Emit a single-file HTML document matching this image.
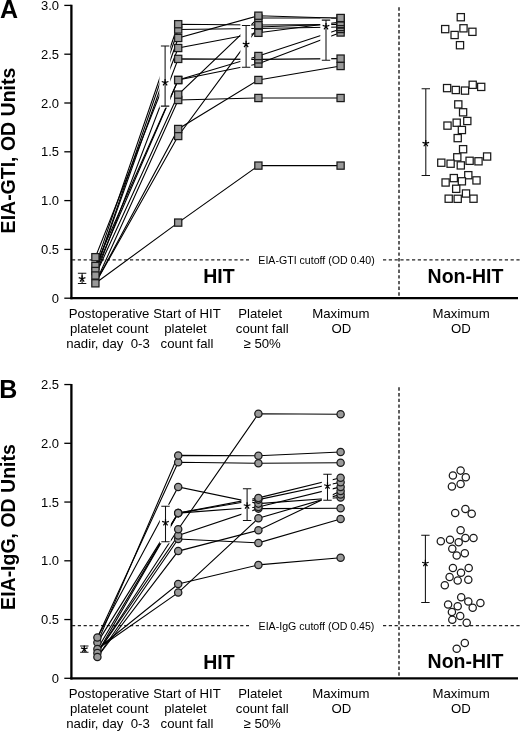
<!DOCTYPE html><html><head><meta charset="utf-8"><style>html,body{margin:0;padding:0;background:#fff;width:520px;height:732px;overflow:hidden}svg{display:block;will-change:transform}text{font-family:"Liberation Sans", sans-serif;fill:#000}</style></head><body><svg width="520" height="732" viewBox="0 0 520 732"><rect width="520" height="732" fill="#fff"/><path d="M399 7.3V296.5M399 387.3V677" stroke="#000" stroke-width="1.25" stroke-dasharray="3.4 2.3" fill="none"/><path d="M71.4 4.8V299.3" stroke="#000" stroke-width="2.3" fill="none"/><path d="M70.3 298.2H518" stroke="#000" stroke-width="2.3" fill="none"/><path d="M64.3 298.2H71.4" stroke="#000" stroke-width="1.3" fill="none"/><text x="59.1" y="302.7" font-size="13" text-anchor="end" font-weight="normal">0</text><path d="M64.3 249.4H71.4" stroke="#000" stroke-width="1.3" fill="none"/><text x="59.1" y="253.9" font-size="13" text-anchor="end" font-weight="normal">0.5</text><path d="M64.3 200.6H71.4" stroke="#000" stroke-width="1.3" fill="none"/><text x="59.1" y="205.1" font-size="13" text-anchor="end" font-weight="normal">1.0</text><path d="M64.3 151.8H71.4" stroke="#000" stroke-width="1.3" fill="none"/><text x="59.1" y="156.3" font-size="13" text-anchor="end" font-weight="normal">1.5</text><path d="M64.3 103H71.4" stroke="#000" stroke-width="1.3" fill="none"/><text x="59.1" y="107.5" font-size="13" text-anchor="end" font-weight="normal">2.0</text><path d="M64.3 54.2H71.4" stroke="#000" stroke-width="1.3" fill="none"/><text x="59.1" y="58.7" font-size="13" text-anchor="end" font-weight="normal">2.5</text><path d="M64.3 5.4H71.4" stroke="#000" stroke-width="1.3" fill="none"/><text x="59.1" y="9.9" font-size="13" text-anchor="end" font-weight="normal">3.0</text><text x="0.1" y="17.6" font-size="25" text-anchor="start" font-weight="bold">A</text><text x="0" y="0" font-size="19.5" font-weight="bold" text-anchor="middle" transform="translate(14.8 150.5) rotate(-90)">EIA-GTI, OD Units</text><path d="M72 259.8H249M383 259.8H520" stroke="#222" stroke-width="1.2" stroke-dasharray="3.2 2.6" fill="none"/><text x="316.5" y="263.9" font-size="10.6" text-anchor="middle" font-weight="normal">EIA-GTI cutoff (OD 0.40)</text><path d="M95.4 266L178.2 24.2L258.4 25L340.6 24.5" stroke="#000" stroke-width="1.1" fill="none"/><path d="M95.4 271L178.2 29.5L258.4 28.5L340.6 27" stroke="#000" stroke-width="1.1" fill="none"/><path d="M95.4 271L178.2 38L258.4 15.7L340.6 18.3" stroke="#000" stroke-width="1.1" fill="none"/><path d="M95.4 257.2L178.2 48L258.4 32.8L340.6 22" stroke="#000" stroke-width="1.1" fill="none"/><path d="M95.4 275.5L178.2 58.9L258.4 59.4L340.6 58.6" stroke="#000" stroke-width="1.1" fill="none"/><path d="M95.4 266L178.2 80L258.4 56L340.6 29" stroke="#000" stroke-width="1.1" fill="none"/><path d="M95.4 271L178.2 80L258.4 63.7L340.6 32.5" stroke="#000" stroke-width="1.1" fill="none"/><path d="M95.4 275.5L178.2 94.6L258.4 18L340.6 18" stroke="#000" stroke-width="1.1" fill="none"/><path d="M95.4 283.3L178.2 100L258.4 98L340.6 98" stroke="#000" stroke-width="1.1" fill="none"/><path d="M95.4 283.3L178.2 129L258.4 80L340.6 66" stroke="#000" stroke-width="1.1" fill="none"/><path d="M95.4 283.3L178.2 136L258.4 27L340.6 24" stroke="#000" stroke-width="1.1" fill="none"/><path d="M95.4 283.3L178.2 222.6L258.4 165.6L340.6 165.6" stroke="#000" stroke-width="1.1" fill="none"/><rect x="159.4" y="44.5" width="10.9" height="63.1" fill="#fff"/><rect x="240.4" y="23.9" width="10.9" height="44.9" fill="#fff"/><rect x="320.3" y="18.6" width="10.9" height="43.2" fill="#fff"/><rect x="91.8" y="262.4" width="7.2" height="7.2" fill="#999999" stroke="#1a1a1a" stroke-width="1.25"/><rect x="91.8" y="267.4" width="7.2" height="7.2" fill="#999999" stroke="#1a1a1a" stroke-width="1.25"/><rect x="91.8" y="271.9" width="7.2" height="7.2" fill="#999999" stroke="#1a1a1a" stroke-width="1.25"/><rect x="91.8" y="279.7" width="7.2" height="7.2" fill="#999999" stroke="#1a1a1a" stroke-width="1.25"/><rect x="91.8" y="253.6" width="7.2" height="7.2" fill="#999999" stroke="#1a1a1a" stroke-width="1.25"/><rect x="174.6" y="219" width="7.2" height="7.2" fill="#999999" stroke="#1a1a1a" stroke-width="1.25"/><rect x="174.6" y="132.4" width="7.2" height="7.2" fill="#999999" stroke="#1a1a1a" stroke-width="1.25"/><rect x="174.6" y="125.4" width="7.2" height="7.2" fill="#999999" stroke="#1a1a1a" stroke-width="1.25"/><rect x="174.6" y="96.4" width="7.2" height="7.2" fill="#999999" stroke="#1a1a1a" stroke-width="1.25"/><rect x="174.6" y="91" width="7.2" height="7.2" fill="#999999" stroke="#1a1a1a" stroke-width="1.25"/><rect x="174.6" y="76.4" width="7.2" height="7.2" fill="#999999" stroke="#1a1a1a" stroke-width="1.25"/><rect x="174.6" y="76.4" width="7.2" height="7.2" fill="#999999" stroke="#1a1a1a" stroke-width="1.25"/><rect x="174.6" y="55.3" width="7.2" height="7.2" fill="#999999" stroke="#1a1a1a" stroke-width="1.25"/><rect x="174.6" y="44.4" width="7.2" height="7.2" fill="#999999" stroke="#1a1a1a" stroke-width="1.25"/><rect x="174.6" y="34.4" width="7.2" height="7.2" fill="#999999" stroke="#1a1a1a" stroke-width="1.25"/><rect x="174.6" y="25.9" width="7.2" height="7.2" fill="#999999" stroke="#1a1a1a" stroke-width="1.25"/><rect x="174.6" y="20.6" width="7.2" height="7.2" fill="#999999" stroke="#1a1a1a" stroke-width="1.25"/><rect x="254.8" y="24.9" width="7.2" height="7.2" fill="#999999" stroke="#1a1a1a" stroke-width="1.25"/><rect x="254.8" y="23.4" width="7.2" height="7.2" fill="#999999" stroke="#1a1a1a" stroke-width="1.25"/><rect x="254.8" y="162" width="7.2" height="7.2" fill="#999999" stroke="#1a1a1a" stroke-width="1.25"/><rect x="254.8" y="94.4" width="7.2" height="7.2" fill="#999999" stroke="#1a1a1a" stroke-width="1.25"/><rect x="254.8" y="76.4" width="7.2" height="7.2" fill="#999999" stroke="#1a1a1a" stroke-width="1.25"/><rect x="254.8" y="60.1" width="7.2" height="7.2" fill="#999999" stroke="#1a1a1a" stroke-width="1.25"/><rect x="254.8" y="55.8" width="7.2" height="7.2" fill="#999999" stroke="#1a1a1a" stroke-width="1.25"/><rect x="254.8" y="52.4" width="7.2" height="7.2" fill="#999999" stroke="#1a1a1a" stroke-width="1.25"/><rect x="254.8" y="29.2" width="7.2" height="7.2" fill="#999999" stroke="#1a1a1a" stroke-width="1.25"/><rect x="254.8" y="21.4" width="7.2" height="7.2" fill="#999999" stroke="#1a1a1a" stroke-width="1.25"/><rect x="254.8" y="14.4" width="7.2" height="7.2" fill="#999999" stroke="#1a1a1a" stroke-width="1.25"/><rect x="254.8" y="12.1" width="7.2" height="7.2" fill="#999999" stroke="#1a1a1a" stroke-width="1.25"/><rect x="337" y="162" width="7.2" height="7.2" fill="#999999" stroke="#1a1a1a" stroke-width="1.25"/><rect x="337" y="94.4" width="7.2" height="7.2" fill="#999999" stroke="#1a1a1a" stroke-width="1.25"/><rect x="337" y="62.4" width="7.2" height="7.2" fill="#999999" stroke="#1a1a1a" stroke-width="1.25"/><rect x="337" y="55" width="7.2" height="7.2" fill="#999999" stroke="#1a1a1a" stroke-width="1.25"/><rect x="337" y="28.9" width="7.2" height="7.2" fill="#999999" stroke="#1a1a1a" stroke-width="1.25"/><rect x="337" y="25.4" width="7.2" height="7.2" fill="#999999" stroke="#1a1a1a" stroke-width="1.25"/><rect x="337" y="23.4" width="7.2" height="7.2" fill="#999999" stroke="#1a1a1a" stroke-width="1.25"/><rect x="337" y="20.9" width="7.2" height="7.2" fill="#999999" stroke="#1a1a1a" stroke-width="1.25"/><rect x="337" y="20.4" width="7.2" height="7.2" fill="#999999" stroke="#1a1a1a" stroke-width="1.25"/><rect x="337" y="18.4" width="7.2" height="7.2" fill="#999999" stroke="#1a1a1a" stroke-width="1.25"/><rect x="337" y="14.7" width="7.2" height="7.2" fill="#999999" stroke="#1a1a1a" stroke-width="1.25"/><rect x="337" y="14.4" width="7.2" height="7.2" fill="#999999" stroke="#1a1a1a" stroke-width="1.25"/><rect x="457.2" y="13.6" width="7.2" height="7.2" fill="#fff" stroke="#1a1a1a" stroke-width="1.25"/><rect x="441.6" y="25.5" width="7.2" height="7.2" fill="#fff" stroke="#1a1a1a" stroke-width="1.25"/><rect x="451" y="31.4" width="7.2" height="7.2" fill="#fff" stroke="#1a1a1a" stroke-width="1.25"/><rect x="459.9" y="24.7" width="7.2" height="7.2" fill="#fff" stroke="#1a1a1a" stroke-width="1.25"/><rect x="468.8" y="28.2" width="7.2" height="7.2" fill="#fff" stroke="#1a1a1a" stroke-width="1.25"/><rect x="456.4" y="41.6" width="7.2" height="7.2" fill="#fff" stroke="#1a1a1a" stroke-width="1.25"/><rect x="443.5" y="84.5" width="7.2" height="7.2" fill="#fff" stroke="#1a1a1a" stroke-width="1.25"/><rect x="452.2" y="86.4" width="7.2" height="7.2" fill="#fff" stroke="#1a1a1a" stroke-width="1.25"/><rect x="461.4" y="87" width="7.2" height="7.2" fill="#fff" stroke="#1a1a1a" stroke-width="1.25"/><rect x="469.1" y="81.2" width="7.2" height="7.2" fill="#fff" stroke="#1a1a1a" stroke-width="1.25"/><rect x="477.6" y="83.3" width="7.2" height="7.2" fill="#fff" stroke="#1a1a1a" stroke-width="1.25"/><rect x="454.7" y="100.8" width="7.2" height="7.2" fill="#fff" stroke="#1a1a1a" stroke-width="1.25"/><rect x="459.5" y="108.7" width="7.2" height="7.2" fill="#fff" stroke="#1a1a1a" stroke-width="1.25"/><rect x="463.7" y="117.4" width="7.2" height="7.2" fill="#fff" stroke="#1a1a1a" stroke-width="1.25"/><rect x="453.1" y="119.1" width="7.2" height="7.2" fill="#fff" stroke="#1a1a1a" stroke-width="1.25"/><rect x="443.9" y="122" width="7.2" height="7.2" fill="#fff" stroke="#1a1a1a" stroke-width="1.25"/><rect x="458.3" y="126.4" width="7.2" height="7.2" fill="#fff" stroke="#1a1a1a" stroke-width="1.25"/><rect x="454.1" y="134.5" width="7.2" height="7.2" fill="#fff" stroke="#1a1a1a" stroke-width="1.25"/><rect x="459.5" y="145.6" width="7.2" height="7.2" fill="#fff" stroke="#1a1a1a" stroke-width="1.25"/><rect x="453.7" y="153.7" width="7.2" height="7.2" fill="#fff" stroke="#1a1a1a" stroke-width="1.25"/><rect x="483.5" y="152.9" width="7.2" height="7.2" fill="#fff" stroke="#1a1a1a" stroke-width="1.25"/><rect x="437.7" y="159.1" width="7.2" height="7.2" fill="#fff" stroke="#1a1a1a" stroke-width="1.25"/><rect x="447" y="160.1" width="7.2" height="7.2" fill="#fff" stroke="#1a1a1a" stroke-width="1.25"/><rect x="457.2" y="161.8" width="7.2" height="7.2" fill="#fff" stroke="#1a1a1a" stroke-width="1.25"/><rect x="466" y="157.2" width="7.2" height="7.2" fill="#fff" stroke="#1a1a1a" stroke-width="1.25"/><rect x="474.9" y="157.7" width="7.2" height="7.2" fill="#fff" stroke="#1a1a1a" stroke-width="1.25"/><rect x="464.7" y="171.6" width="7.2" height="7.2" fill="#fff" stroke="#1a1a1a" stroke-width="1.25"/><rect x="450.2" y="174.5" width="7.2" height="7.2" fill="#fff" stroke="#1a1a1a" stroke-width="1.25"/><rect x="442" y="178.9" width="7.2" height="7.2" fill="#fff" stroke="#1a1a1a" stroke-width="1.25"/><rect x="458.3" y="177.7" width="7.2" height="7.2" fill="#fff" stroke="#1a1a1a" stroke-width="1.25"/><rect x="472.9" y="176.8" width="7.2" height="7.2" fill="#fff" stroke="#1a1a1a" stroke-width="1.25"/><rect x="452.6" y="185.2" width="7.2" height="7.2" fill="#fff" stroke="#1a1a1a" stroke-width="1.25"/><rect x="462.4" y="189.9" width="7.2" height="7.2" fill="#fff" stroke="#1a1a1a" stroke-width="1.25"/><rect x="445.1" y="195.1" width="7.2" height="7.2" fill="#fff" stroke="#1a1a1a" stroke-width="1.25"/><rect x="454.1" y="195.2" width="7.2" height="7.2" fill="#fff" stroke="#1a1a1a" stroke-width="1.25"/><rect x="469.9" y="195.1" width="7.2" height="7.2" fill="#fff" stroke="#1a1a1a" stroke-width="1.25"/><path d="M77.9 273.2H86.3M82.1 273.2V283.4M77.9 283.4H86.3" stroke="#111" stroke-width="1.05" fill="none"/><path d="M82.1 278.7L82.1 275.2M82.1 278.7L85.43 277.62M82.1 278.7L84.16 281.53M82.1 278.7L80.04 281.53M82.1 278.7L78.77 277.62" stroke="#000" stroke-width="1.2" fill="none" stroke-linecap="butt"/><path d="M160.9 46H169.3M165.1 46V106.1M160.9 106.1H169.3" stroke="#111" stroke-width="1.05" fill="none"/><path d="M165.1 82.6L165.1 79.1M165.1 82.6L168.43 81.52M165.1 82.6L167.16 85.43M165.1 82.6L163.04 85.43M165.1 82.6L161.77 81.52" stroke="#000" stroke-width="1.2" fill="none" stroke-linecap="butt"/><path d="M241.9 25.4H250.3M246.1 25.4V67.3M241.9 67.3H250.3" stroke="#111" stroke-width="1.05" fill="none"/><path d="M246.1 44.2L246.1 40.7M246.1 44.2L249.43 43.12M246.1 44.2L248.16 47.03M246.1 44.2L244.04 47.03M246.1 44.2L242.77 43.12" stroke="#000" stroke-width="1.2" fill="none" stroke-linecap="butt"/><path d="M321.8 20.1H330.2M326 20.1V60.3M321.8 60.3H330.2" stroke="#111" stroke-width="1.05" fill="none"/><path d="M326 26.5L326 23M326 26.5L329.33 25.42M326 26.5L328.06 29.33M326 26.5L323.94 29.33M326 26.5L322.67 25.42" stroke="#000" stroke-width="1.2" fill="none" stroke-linecap="butt"/><path d="M421.6 88.7H430M425.8 88.7V175.4M421.6 175.4H430" stroke="#111" stroke-width="1.05" fill="none"/><path d="M425.8 143.4L425.8 139.9M425.8 143.4L429.13 142.32M425.8 143.4L427.86 146.23M425.8 143.4L423.74 146.23M425.8 143.4L422.47 142.32" stroke="#000" stroke-width="1.2" fill="none" stroke-linecap="butt"/><path d="M71.4 383.9V679.4" stroke="#000" stroke-width="2.3" fill="none"/><path d="M70.3 678.3H518" stroke="#000" stroke-width="2.3" fill="none"/><path d="M64.3 678.3H71.4" stroke="#000" stroke-width="1.3" fill="none"/><text x="59.1" y="682.8" font-size="13" text-anchor="end" font-weight="normal">0</text><path d="M64.3 619.55H71.4" stroke="#000" stroke-width="1.3" fill="none"/><text x="59.1" y="624.05" font-size="13" text-anchor="end" font-weight="normal">0.5</text><path d="M64.3 560.8H71.4" stroke="#000" stroke-width="1.3" fill="none"/><text x="59.1" y="565.3" font-size="13" text-anchor="end" font-weight="normal">1.0</text><path d="M64.3 502.05H71.4" stroke="#000" stroke-width="1.3" fill="none"/><text x="59.1" y="506.55" font-size="13" text-anchor="end" font-weight="normal">1.5</text><path d="M64.3 443.3H71.4" stroke="#000" stroke-width="1.3" fill="none"/><text x="59.1" y="447.8" font-size="13" text-anchor="end" font-weight="normal">2.0</text><path d="M64.3 384.55H71.4" stroke="#000" stroke-width="1.3" fill="none"/><text x="59.1" y="389.05" font-size="13" text-anchor="end" font-weight="normal">2.5</text><text x="-0.8" y="397.7" font-size="25" text-anchor="start" font-weight="bold">B</text><text x="0" y="0" font-size="19.5" font-weight="bold" text-anchor="middle" transform="translate(14.8 527) rotate(-90)">EIA-IgG, OD Units</text><path d="M72 625.7H249M383 625.7H520" stroke="#222" stroke-width="1.2" stroke-dasharray="3.2 2.6" fill="none"/><text x="316.5" y="629.8" font-size="10.6" text-anchor="middle" font-weight="normal">EIA-IgG cutoff (OD 0.45)</text><path d="M97.4 637.5L178.2 462.3L258.4 463.3L340.6 462.7" stroke="#000" stroke-width="1.1" fill="none"/><path d="M97.4 642.6L178.2 455.4L258.4 455.8L340.6 452" stroke="#000" stroke-width="1.1" fill="none"/><path d="M97.4 637.5L178.2 486.9L258.4 503.6L340.6 497.5" stroke="#000" stroke-width="1.1" fill="none"/><path d="M97.4 642.6L178.2 513.1L258.4 497.9L340.6 477.7" stroke="#000" stroke-width="1.1" fill="none"/><path d="M97.4 649L178.2 584L258.4 564.9L340.6 557.7" stroke="#000" stroke-width="1.1" fill="none"/><path d="M97.4 649L178.2 513.1L258.4 499.6L340.6 482.3" stroke="#000" stroke-width="1.1" fill="none"/><path d="M97.4 649L178.2 592.6L258.4 518.2L340.6 494.4" stroke="#000" stroke-width="1.1" fill="none"/><path d="M97.4 653L178.2 513.1L258.4 507L340.6 486.9" stroke="#000" stroke-width="1.1" fill="none"/><path d="M97.4 653L178.2 529.2L258.4 413.8L340.6 414.2" stroke="#000" stroke-width="1.1" fill="none"/><path d="M97.4 653L178.2 535.5L258.4 508.6L340.6 508.3" stroke="#000" stroke-width="1.1" fill="none"/><path d="M97.4 657L178.2 539L258.4 542.9L340.6 519" stroke="#000" stroke-width="1.1" fill="none"/><path d="M97.4 657L178.2 551.1L258.4 530.3L340.6 491" stroke="#000" stroke-width="1.1" fill="none"/><rect x="159.8" y="504.7" width="10.9" height="38.6" fill="#fff"/><rect x="241.4" y="487.3" width="10.9" height="34.6" fill="#fff"/><rect x="321.8" y="472.7" width="10.9" height="29" fill="#fff"/><circle cx="97.4" cy="642.6" r="3.65" fill="#999999" stroke="#1a1a1a" stroke-width="1.25"/><circle cx="97.4" cy="649" r="3.65" fill="#999999" stroke="#1a1a1a" stroke-width="1.25"/><circle cx="97.4" cy="653" r="3.65" fill="#999999" stroke="#1a1a1a" stroke-width="1.25"/><circle cx="97.4" cy="657" r="3.65" fill="#999999" stroke="#1a1a1a" stroke-width="1.25"/><circle cx="97.4" cy="637.5" r="3.65" fill="#999999" stroke="#1a1a1a" stroke-width="1.25"/><circle cx="178.2" cy="592.6" r="3.65" fill="#999999" stroke="#1a1a1a" stroke-width="1.25"/><circle cx="178.2" cy="584" r="3.65" fill="#999999" stroke="#1a1a1a" stroke-width="1.25"/><circle cx="178.2" cy="551.1" r="3.65" fill="#999999" stroke="#1a1a1a" stroke-width="1.25"/><circle cx="178.2" cy="539" r="3.65" fill="#999999" stroke="#1a1a1a" stroke-width="1.25"/><circle cx="178.2" cy="535.5" r="3.65" fill="#999999" stroke="#1a1a1a" stroke-width="1.25"/><circle cx="178.2" cy="529.2" r="3.65" fill="#999999" stroke="#1a1a1a" stroke-width="1.25"/><circle cx="178.2" cy="513.1" r="3.65" fill="#999999" stroke="#1a1a1a" stroke-width="1.25"/><circle cx="178.2" cy="513.1" r="3.65" fill="#999999" stroke="#1a1a1a" stroke-width="1.25"/><circle cx="178.2" cy="513.1" r="3.65" fill="#999999" stroke="#1a1a1a" stroke-width="1.25"/><circle cx="178.2" cy="486.9" r="3.65" fill="#999999" stroke="#1a1a1a" stroke-width="1.25"/><circle cx="178.2" cy="462.3" r="3.65" fill="#999999" stroke="#1a1a1a" stroke-width="1.25"/><circle cx="178.2" cy="455.4" r="3.65" fill="#999999" stroke="#1a1a1a" stroke-width="1.25"/><circle cx="258.4" cy="564.9" r="3.65" fill="#999999" stroke="#1a1a1a" stroke-width="1.25"/><circle cx="258.4" cy="542.9" r="3.65" fill="#999999" stroke="#1a1a1a" stroke-width="1.25"/><circle cx="258.4" cy="530.3" r="3.65" fill="#999999" stroke="#1a1a1a" stroke-width="1.25"/><circle cx="258.4" cy="518.2" r="3.65" fill="#999999" stroke="#1a1a1a" stroke-width="1.25"/><circle cx="258.4" cy="508.6" r="3.65" fill="#999999" stroke="#1a1a1a" stroke-width="1.25"/><circle cx="258.4" cy="507" r="3.65" fill="#999999" stroke="#1a1a1a" stroke-width="1.25"/><circle cx="258.4" cy="503.6" r="3.65" fill="#999999" stroke="#1a1a1a" stroke-width="1.25"/><circle cx="258.4" cy="499.6" r="3.65" fill="#999999" stroke="#1a1a1a" stroke-width="1.25"/><circle cx="258.4" cy="497.9" r="3.65" fill="#999999" stroke="#1a1a1a" stroke-width="1.25"/><circle cx="258.4" cy="463.3" r="3.65" fill="#999999" stroke="#1a1a1a" stroke-width="1.25"/><circle cx="258.4" cy="455.8" r="3.65" fill="#999999" stroke="#1a1a1a" stroke-width="1.25"/><circle cx="258.4" cy="413.8" r="3.65" fill="#999999" stroke="#1a1a1a" stroke-width="1.25"/><circle cx="340.6" cy="557.7" r="3.65" fill="#999999" stroke="#1a1a1a" stroke-width="1.25"/><circle cx="340.6" cy="519" r="3.65" fill="#999999" stroke="#1a1a1a" stroke-width="1.25"/><circle cx="340.6" cy="508.3" r="3.65" fill="#999999" stroke="#1a1a1a" stroke-width="1.25"/><circle cx="340.6" cy="497.5" r="3.65" fill="#999999" stroke="#1a1a1a" stroke-width="1.25"/><circle cx="340.6" cy="494.4" r="3.65" fill="#999999" stroke="#1a1a1a" stroke-width="1.25"/><circle cx="340.6" cy="491" r="3.65" fill="#999999" stroke="#1a1a1a" stroke-width="1.25"/><circle cx="340.6" cy="486.9" r="3.65" fill="#999999" stroke="#1a1a1a" stroke-width="1.25"/><circle cx="340.6" cy="482.3" r="3.65" fill="#999999" stroke="#1a1a1a" stroke-width="1.25"/><circle cx="340.6" cy="477.7" r="3.65" fill="#999999" stroke="#1a1a1a" stroke-width="1.25"/><circle cx="340.6" cy="462.7" r="3.65" fill="#999999" stroke="#1a1a1a" stroke-width="1.25"/><circle cx="340.6" cy="452" r="3.65" fill="#999999" stroke="#1a1a1a" stroke-width="1.25"/><circle cx="340.6" cy="414.2" r="3.65" fill="#999999" stroke="#1a1a1a" stroke-width="1.25"/><circle cx="460.6" cy="470.6" r="3.65" fill="#fff" stroke="#1a1a1a" stroke-width="1.25"/><circle cx="452.9" cy="475.4" r="3.65" fill="#fff" stroke="#1a1a1a" stroke-width="1.25"/><circle cx="465.8" cy="477.3" r="3.65" fill="#fff" stroke="#1a1a1a" stroke-width="1.25"/><circle cx="460.6" cy="484" r="3.65" fill="#fff" stroke="#1a1a1a" stroke-width="1.25"/><circle cx="451.9" cy="486.5" r="3.65" fill="#fff" stroke="#1a1a1a" stroke-width="1.25"/><circle cx="465.4" cy="509" r="3.65" fill="#fff" stroke="#1a1a1a" stroke-width="1.25"/><circle cx="455.2" cy="512.9" r="3.65" fill="#fff" stroke="#1a1a1a" stroke-width="1.25"/><circle cx="471.7" cy="513.8" r="3.65" fill="#fff" stroke="#1a1a1a" stroke-width="1.25"/><circle cx="460.6" cy="530.2" r="3.65" fill="#fff" stroke="#1a1a1a" stroke-width="1.25"/><circle cx="440.8" cy="541.3" r="3.65" fill="#fff" stroke="#1a1a1a" stroke-width="1.25"/><circle cx="450" cy="539.8" r="3.65" fill="#fff" stroke="#1a1a1a" stroke-width="1.25"/><circle cx="458.7" cy="542.3" r="3.65" fill="#fff" stroke="#1a1a1a" stroke-width="1.25"/><circle cx="465.4" cy="537.9" r="3.65" fill="#fff" stroke="#1a1a1a" stroke-width="1.25"/><circle cx="473.5" cy="537.9" r="3.65" fill="#fff" stroke="#1a1a1a" stroke-width="1.25"/><circle cx="452.3" cy="548.8" r="3.65" fill="#fff" stroke="#1a1a1a" stroke-width="1.25"/><circle cx="464.8" cy="553.3" r="3.65" fill="#fff" stroke="#1a1a1a" stroke-width="1.25"/><circle cx="456.7" cy="555.6" r="3.65" fill="#fff" stroke="#1a1a1a" stroke-width="1.25"/><circle cx="452.9" cy="567.9" r="3.65" fill="#fff" stroke="#1a1a1a" stroke-width="1.25"/><circle cx="468.7" cy="567.9" r="3.65" fill="#fff" stroke="#1a1a1a" stroke-width="1.25"/><circle cx="461" cy="572.7" r="3.65" fill="#fff" stroke="#1a1a1a" stroke-width="1.25"/><circle cx="449.6" cy="576.9" r="3.65" fill="#fff" stroke="#1a1a1a" stroke-width="1.25"/><circle cx="457.7" cy="580.4" r="3.65" fill="#fff" stroke="#1a1a1a" stroke-width="1.25"/><circle cx="468.3" cy="579.8" r="3.65" fill="#fff" stroke="#1a1a1a" stroke-width="1.25"/><circle cx="444.8" cy="585.2" r="3.65" fill="#fff" stroke="#1a1a1a" stroke-width="1.25"/><circle cx="461.2" cy="597.3" r="3.65" fill="#fff" stroke="#1a1a1a" stroke-width="1.25"/><circle cx="468.3" cy="601.5" r="3.65" fill="#fff" stroke="#1a1a1a" stroke-width="1.25"/><circle cx="480.4" cy="603.1" r="3.65" fill="#fff" stroke="#1a1a1a" stroke-width="1.25"/><circle cx="448.1" cy="604.4" r="3.65" fill="#fff" stroke="#1a1a1a" stroke-width="1.25"/><circle cx="457.7" cy="606.3" r="3.65" fill="#fff" stroke="#1a1a1a" stroke-width="1.25"/><circle cx="472.7" cy="607.7" r="3.65" fill="#fff" stroke="#1a1a1a" stroke-width="1.25"/><circle cx="451.9" cy="612.1" r="3.65" fill="#fff" stroke="#1a1a1a" stroke-width="1.25"/><circle cx="460.2" cy="616" r="3.65" fill="#fff" stroke="#1a1a1a" stroke-width="1.25"/><circle cx="452.3" cy="619.8" r="3.65" fill="#fff" stroke="#1a1a1a" stroke-width="1.25"/><circle cx="466.7" cy="622.7" r="3.65" fill="#fff" stroke="#1a1a1a" stroke-width="1.25"/><circle cx="464.8" cy="642.9" r="3.65" fill="#fff" stroke="#1a1a1a" stroke-width="1.25"/><circle cx="456.7" cy="648.7" r="3.65" fill="#fff" stroke="#1a1a1a" stroke-width="1.25"/><path d="M80.1 646H88.5M84.3 646V652.2M80.1 652.2H88.5" stroke="#111" stroke-width="1.05" fill="none"/><path d="M84.3 649L84.3 645.5M84.3 649L87.63 647.92M84.3 649L86.36 651.83M84.3 649L82.24 651.83M84.3 649L80.97 647.92" stroke="#000" stroke-width="1.2" fill="none" stroke-linecap="butt"/><path d="M161.3 506.2H169.7M165.5 506.2V541.8M161.3 541.8H169.7" stroke="#111" stroke-width="1.05" fill="none"/><path d="M165.5 522.5L165.5 519M165.5 522.5L168.83 521.42M165.5 522.5L167.56 525.33M165.5 522.5L163.44 525.33M165.5 522.5L162.17 521.42" stroke="#000" stroke-width="1.2" fill="none" stroke-linecap="butt"/><path d="M242.9 488.8H251.3M247.1 488.8V520.4M242.9 520.4H251.3" stroke="#111" stroke-width="1.05" fill="none"/><path d="M247.1 505.8L247.1 502.3M247.1 505.8L250.43 504.72M247.1 505.8L249.16 508.63M247.1 505.8L245.04 508.63M247.1 505.8L243.77 504.72" stroke="#000" stroke-width="1.2" fill="none" stroke-linecap="butt"/><path d="M323.3 474.2H331.7M327.5 474.2V500.2M323.3 500.2H331.7" stroke="#111" stroke-width="1.05" fill="none"/><path d="M327.5 485.8L327.5 482.3M327.5 485.8L330.83 484.72M327.5 485.8L329.56 488.63M327.5 485.8L325.44 488.63M327.5 485.8L324.17 484.72" stroke="#000" stroke-width="1.2" fill="none" stroke-linecap="butt"/><path d="M421.2 535.3H429.6M425.4 535.3V602.5M421.2 602.5H429.6" stroke="#111" stroke-width="1.05" fill="none"/><path d="M425.4 563.3L425.4 559.8M425.4 563.3L428.73 562.22M425.4 563.3L427.46 566.13M425.4 563.3L423.34 566.13M425.4 563.3L422.07 562.22" stroke="#000" stroke-width="1.2" fill="none" stroke-linecap="butt"/><text x="219" y="283" font-size="19.5" text-anchor="middle" font-weight="bold">HIT</text><text x="465.5" y="283.1" font-size="19.5" text-anchor="middle" font-weight="bold">Non-HIT</text><text x="219" y="668.6" font-size="19.5" text-anchor="middle" font-weight="bold">HIT</text><text x="465.5" y="668.3" font-size="19.5" text-anchor="middle" font-weight="bold">Non-HIT</text><text x="109" y="318.2" font-size="13.2" text-anchor="middle" font-weight="normal">Postoperative</text><text x="109.2" y="333.2" font-size="13.2" text-anchor="middle" font-weight="normal">platelet count</text><text x="108" y="348.2" font-size="13.2" text-anchor="middle" font-weight="normal">nadir, day&#160; 0-3</text><text x="187" y="318.2" font-size="13.2" text-anchor="middle" font-weight="normal">Start of HIT</text><text x="185.4" y="333.2" font-size="13.2" text-anchor="middle" font-weight="normal">platelet</text><text x="187" y="348.2" font-size="13.2" text-anchor="middle" font-weight="normal">count fall</text><text x="260.2" y="318.2" font-size="13.2" text-anchor="middle" font-weight="normal">Platelet</text><text x="262.2" y="333.2" font-size="13.2" text-anchor="middle" font-weight="normal">count fall</text><text x="262.2" y="348.2" font-size="13.2" text-anchor="middle" font-weight="normal">&#8805; 50%</text><text x="340.8" y="318.2" font-size="13.2" text-anchor="middle" font-weight="normal">Maximum</text><text x="341.4" y="333.2" font-size="13.2" text-anchor="middle" font-weight="normal">OD</text><text x="461.1" y="318.2" font-size="13.2" text-anchor="middle" font-weight="normal">Maximum</text><text x="461" y="333.2" font-size="13.2" text-anchor="middle" font-weight="normal">OD</text><text x="109" y="698" font-size="13.2" text-anchor="middle" font-weight="normal">Postoperative</text><text x="109.2" y="713" font-size="13.2" text-anchor="middle" font-weight="normal">platelet count</text><text x="108" y="728" font-size="13.2" text-anchor="middle" font-weight="normal">nadir, day&#160; 0-3</text><text x="187" y="698" font-size="13.2" text-anchor="middle" font-weight="normal">Start of HIT</text><text x="185.4" y="713" font-size="13.2" text-anchor="middle" font-weight="normal">platelet</text><text x="187" y="728" font-size="13.2" text-anchor="middle" font-weight="normal">count fall</text><text x="260.2" y="698" font-size="13.2" text-anchor="middle" font-weight="normal">Platelet</text><text x="262.2" y="713" font-size="13.2" text-anchor="middle" font-weight="normal">count fall</text><text x="262.2" y="728" font-size="13.2" text-anchor="middle" font-weight="normal">&#8805; 50%</text><text x="340.8" y="698" font-size="13.2" text-anchor="middle" font-weight="normal">Maximum</text><text x="341.4" y="713" font-size="13.2" text-anchor="middle" font-weight="normal">OD</text><text x="461.1" y="698" font-size="13.2" text-anchor="middle" font-weight="normal">Maximum</text><text x="461" y="713" font-size="13.2" text-anchor="middle" font-weight="normal">OD</text></svg></body></html>
